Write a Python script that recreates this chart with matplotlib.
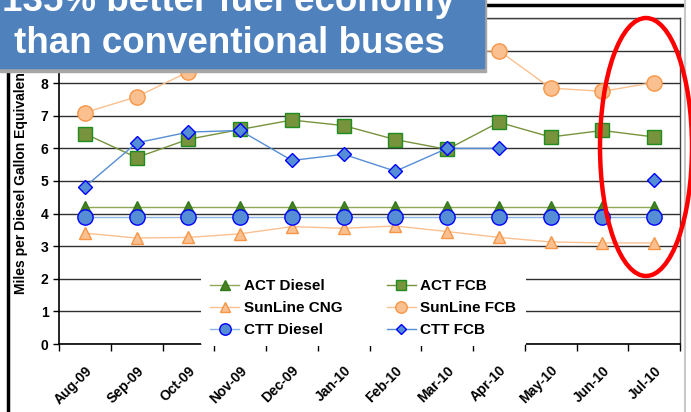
import numpy as np
import matplotlib.pyplot as plt
from matplotlib.patches import Rectangle, Ellipse
from matplotlib.lines import Line2D

plt.rcParams['font.family'] = ['Liberation Sans', 'DejaVu Sans']
plt.rcParams['font.weight'] = 'bold'

# donnees
months = ['Aug-09', 'Sep-09', 'Oct-09', 'Nov-09', 'Dec-09', 'Jan-10',
          'Feb-10', 'Mar-10', 'Apr-10', 'May-10', 'Jun-10', 'Jul-10']
act_diesel = [4.2, 4.2, 4.2, 4.2, 4.2, 4.2, 4.2, 4.2, 4.2, 4.2, 4.2, 4.2]
act_fcb = [6.45, 5.72, 6.28, 6.58, 6.87, 6.70, 6.27, 5.97, 6.80, 6.35, 6.55, 6.35]
sunline_cng = [3.40, 3.25, 3.27, 3.38, 3.60, 3.55, 3.62, 3.45, 3.27, 3.13, 3.10, 3.10]
sunline_fcb = [7.10, 7.58, 8.35, 8.90, 9.30, 9.10, 8.80, 8.95, 9.00, 7.85, 7.75, 8.02]
ctt_diesel = [3.9, 3.9, 3.9, 3.9, 3.9, 3.9, 3.9, 3.9, 3.9, 3.9, 3.9, 3.9]
ctt_fcb = [4.82, 6.17, 6.50, 6.55, 5.63, 5.82, 5.30, 6.00, 6.00, np.nan, np.nan, 5.02]

fig = plt.figure(figsize=(6.91, 4.12), dpi=100)
W, H = 691, 412
ax = fig.add_axes([59 / W, 1 - 344 / H, 621 / W, 326 / H])

x = np.arange(len(months))

# series: (label, data, marker, size, face, edge, line colour)
series = [
    ('ACT Diesel', act_diesel, '^', 9, '#4A7F22', '#2F7A1A', '#8FA85A'),
    ('ACT FCB', act_fcb, 's', 10, '#77933C', '#1E8C1E', '#77933C'),
    ('SunLine CNG', sunline_cng, '^', 9, '#FAC090', '#F79646', '#FAC090'),
    ('SunLine FCB', sunline_fcb, 'o', 11, '#FAC090', '#F79646', '#FAC090'),
    ('CTT Diesel', ctt_diesel, 'o', 11, '#558ED5', '#0000FF', '#8EB4E3'),
    ('CTT FCB', ctt_fcb, 'D', 7, '#558ED5', '#0000FF', '#558ED5'),
]

handles = []
for label, vals, m, ms, fc, ec, lc in series:
    h, = ax.plot(x, vals, color=lc, lw=1.0, marker=m, markersize=ms,
                 markerfacecolor=fc, markeredgecolor=ec, markeredgewidth=1.0,
                 label=label, zorder=3)
    handles.append(h)

ax.set_xlim(-0.5, 11.5)
ax.set_ylim(0, 10)
ax.set_yticks(range(0, 11))
ax.yaxis.grid(True, color='#303030', lw=1.0)
ax.set_axisbelow(True)
ax.tick_params(axis='y', labelsize=10, length=4, direction='out', width=1)

# ticks between categories, labels on categories
ax.set_xticks(np.arange(-0.5, 12, 1))
ax.set_xticklabels([])
ax.set_xticks(x, minor=True)
ax.set_xticklabels(months, minor=True, rotation=45, ha='right',
                   rotation_mode='anchor', fontsize=10)
ax.tick_params(axis='x', which='major', length=5, direction='out', width=1)
ax.tick_params(axis='x', which='minor', length=0, pad=14)

for s in ['left', 'bottom']:
    ax.spines[s].set_color('black')
    ax.spines[s].set_linewidth(1.2)
for s in ['top', 'right']:
    ax.spines[s].set_color('#404040')
    ax.spines[s].set_linewidth(1.0)

ax.set_ylabel('Miles per Diesel Gallon Equivalent', fontsize=10,
              fontweight='bold', labelpad=4)

# legende rangee par lignes (comme Excel)
order = [0, 2, 4, 1, 3, 5]
leg = ax.legend([handles[i] for i in order],
                [series[i][0] for i in order],
                ncol=2, loc='center', bbox_to_anchor=(0.49, 0.11),
                frameon=True, fontsize=11, handlelength=1.9,
                handletextpad=0.3, columnspacing=2.9, labelspacing=0.52,
                borderpad=0.6)
leg.get_frame().set_facecolor('white')
leg.get_frame().set_edgecolor('none')
leg.get_frame().set_alpha(1)
for h in leg.legend_handles:
    h.set_markersize(h.get_markersize() * 0.75)

# decorations of the slide
fig.add_artist(Line2D([8 / W, 8 / W], [0, 1], color='black', lw=2.5,
                      transform=fig.transFigure))
fig.add_artist(Line2D([485 / W, 682 / W], [1 - 5 / H, 1 - 5 / H],
                      color='black', lw=2.5, transform=fig.transFigure))
fig.add_artist(Line2D([685 / W, 685 / W], [0, 1], color='#C8C8C8', lw=1.5,
                      transform=fig.transFigure))

# boite titre
fig.add_artist(Rectangle((0, 1 - 72 / H), 486 / W, 72 / H, color='#A6A6A6',
                         transform=fig.transFigure, zorder=10))
fig.add_artist(Rectangle((0, 1 - 68 / H), 484 / W, 68 / H, color='#4F81BD',
                         transform=fig.transFigure, zorder=11))
fig.text(229 / W, 1 - 11 / H, '135% better fuel economy', color='white',
         fontsize=26.5, fontweight='bold', ha='center', va='baseline',
         zorder=12)
fig.text(229 / W, 1 - 53 / H, 'than conventional buses', color='white',
         fontsize=26.5, fontweight='bold', ha='center', va='baseline',
         zorder=12)

# ellipse rouge
fig.add_artist(Ellipse((646 / W, 1 - 147 / H), 92 / W, 258 / H, fill=False,
                       edgecolor='#FF0000', lw=3.2, transform=fig.transFigure,
                       zorder=13))

plt.savefig('out.png', dpi=100)
